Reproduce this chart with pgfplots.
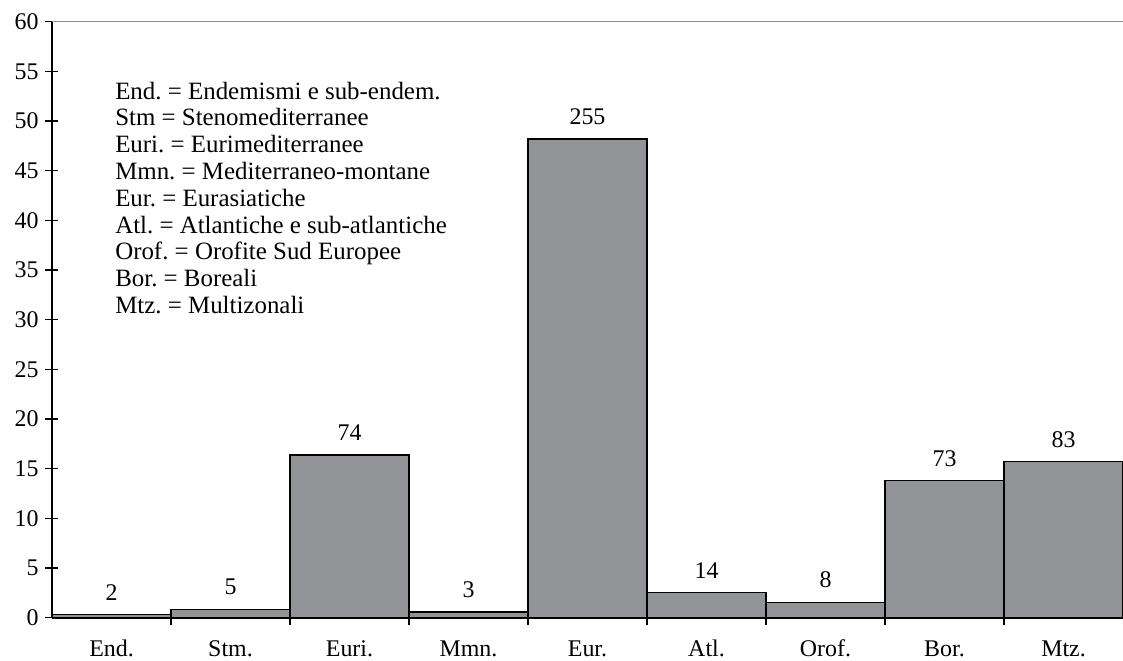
\documentclass[border=0pt]{standalone}
\usepackage{pgfplots}
\pgfplotsset{compat=1.18}
\usepackage{fontspec}
\setmainfont{Liberation Serif}
\frenchspacing
\definecolor{barfill}{RGB}{146,147,151}
\begin{document}
\begin{tikzpicture}
\begin{axis}[name=ax, at={(0,0)}, anchor=south west,
  scale only axis, width=1071bp, height=596bp,
  xmin=-0.5, xmax=8.5, ymin=0, ymax=60,
  axis x line*=bottom, axis y line*=left,
  x axis line style={black, line width=1.8bp, -},
  y axis line style={black, line width=2.6bp, -},
  ytick={0,5,...,60},
  xtick={0,...,8},
  xticklabels={End.,Stm.,Euri.,Mmn.,Eur.,Atl.,Orof.,Bor.,Mtz.},
  minor xtick={0.5,1.5,...,7.5},
  tick align=outside,
  major tick length=13bp, minor tick length=10bp,
  major x tick style={draw=none},
  minor x tick style={black, line width=1.6bp, yshift=3bp},
  major y tick style={black, line width=1.3bp, xshift=6.5bp},
  tick label style={font=\fontsize{24}{28}\selectfont},
  xticklabel style={text height=17bp, text depth=5bp, yshift=-5bp},
  yticklabel style={xshift=3bp},
  /pgf/number format/assume math mode=true,
  ybar, bar width=1,
  nodes near coords, point meta=explicit symbolic,
  nodes near coords style={font=\fontsize{24}{28}\selectfont, yshift=10bp},
]
\addplot[fill=barfill, draw=black, line width=1.5bp] table[meta=n] {
x y n
0 0.30 2
1 0.85 5
2 16.4 74
3 0.55 3
4 48.2 255
5 2.56 14
6 1.55 8
7 13.8 73
8 15.7 83
};
\draw[gray!85, line width=1bp] (axis cs:-0.5,60) -- (axis cs:8.5,60);
\node[anchor=base west, align=left, inner sep=0pt, font=\fontsize{25}{26.9}\selectfont] at (axis cs:0.03,30.63) {End. = Endemismi e sub-endem.\\Stm = Stenomediterranee\\Euri. = Eurimediterranee\\Mmn. = Mediterraneo-montane\\Eur. = Eurasiatiche\\Atl. = Atlantiche e sub-atlantiche\\Orof. = Orofite Sud Europee\\Bor. = Boreali\\Mtz. = Multizonali};
\end{axis}
\pgfresetboundingbox
\path[use as bounding box] (-52bp,-43.3bp) rectangle (1071bp,617.7bp);
\end{tikzpicture}
\end{document}
